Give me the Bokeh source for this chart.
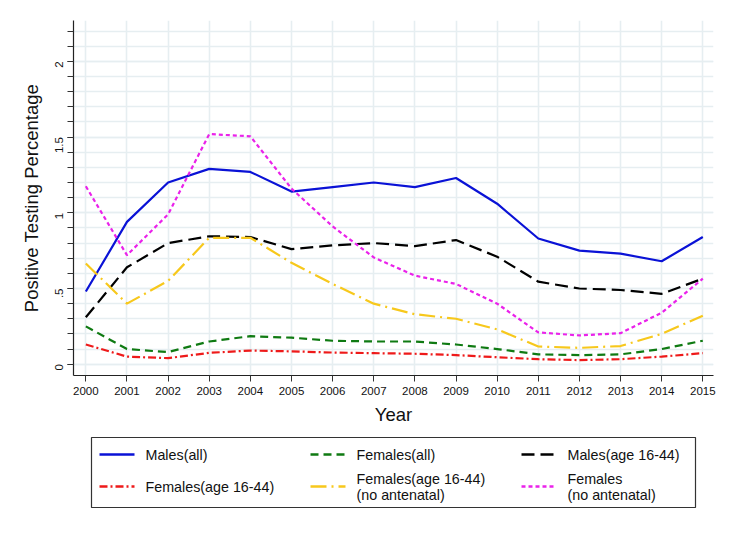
from bokeh.plotting import figure
from bokeh.models import Range1d, FixedTicker
from bokeh.layouts import column
from bokeh.core.properties import value
from bokeh.embed import file_html
from bokeh.resources import INLINE

# ---------------- data ----------------
years = list(range(2000, 2016))
males_all = [0.48, 0.94, 1.20, 1.29, 1.27, 1.14, 1.17, 1.20, 1.17, 1.23, 1.06, 0.83, 0.75, 0.73, 0.68, 0.84]
females_all = [0.25, 0.10, 0.08, 0.15, 0.185, 0.175, 0.155, 0.15, 0.15, 0.13, 0.10, 0.065, 0.06, 0.065, 0.10, 0.155]
males_1644 = [0.31, 0.64, 0.80, 0.845, 0.84, 0.76, 0.785, 0.80, 0.78, 0.82, 0.71, 0.545, 0.50, 0.49, 0.465, 0.565]
females_1644 = [0.13, 0.05, 0.04, 0.075, 0.09, 0.085, 0.077, 0.073, 0.069, 0.06, 0.046, 0.033, 0.027, 0.033, 0.05, 0.073]
females_1644_noant = [0.665, 0.40, 0.55, 0.835, 0.835, 0.67, 0.53, 0.40, 0.33, 0.30, 0.23, 0.117, 0.108, 0.12, 0.20, 0.32]
females_noant = [1.175, 0.72, 0.99, 1.52, 1.505, 1.16, 0.91, 0.705, 0.585, 0.53, 0.40, 0.21, 0.19, 0.205, 0.34, 0.565]

y_ticks = [0, 0.5, 1, 1.5, 2]
y_tick_labels = ["0", ".5", "1", "1.5", "2"]
y_minor = [round(i * 0.1, 1) for i in range(0, 23)]

series = [
    # (values, label lines, color, dash)
    (males_all, ["Males(all)"], "#0a12d6", "solid"),
    (females_all, ["Females(all)"], "#0f7a12", "8 5"),
    (males_1644, ["Males(age 16-44)"], "#000000", "13 6"),
    (females_1644, ["Females(age 16-44)"], "#ee1a1a", "8 3 2 3"),
    (females_1644_noant, ["Females(age 16-44)", "(no antenatal)"], "#f7c81c", "16 5 2 5"),
    (females_noant, ["Females", "(no antenatal)"], "#ea22ea", "4 3"),
]

FONT = "Liberation Sans"
W = 716
FRAME_L, FRAME_R = 73, 713

# ---------------- main plot ----------------
p = figure(width=W, height=428, output_backend="svg", toolbar_location=None,
           x_range=Range1d(1999.7, 2015.26), y_range=Range1d(-0.0746, 2.27),
           min_border_left=FRAME_L, min_border_right=W - FRAME_R,
           min_border_top=20, min_border_bottom=53)
p.outline_line_color = None
p.background_fill_color = "white"
p.border_fill_color = "white"

for vals, lab, col, dash in series:
    p.line(years, vals, line_color=col, line_width=2.2, line_dash=dash)

grid_col = "#e6eef1"
p.xaxis.ticker = FixedTicker(ticks=years)
p.yaxis.ticker = FixedTicker(ticks=y_ticks, minor_ticks=y_minor)
p.yaxis.major_label_overrides = dict(zip(y_ticks, y_tick_labels))
p.xgrid.grid_line_color = grid_col
p.xgrid.grid_line_width = 1.6
p.ygrid.grid_line_color = grid_col
p.ygrid.grid_line_width = 1.6
p.ygrid.minor_grid_line_color = grid_col
p.ygrid.minor_grid_line_width = 1.6

for ax in (p.xaxis, p.yaxis):
    ax.axis_line_color = "#222222"
    ax.axis_line_width = 1.2
    ax.major_tick_line_color = "#333333"
    ax.minor_tick_line_color = "#333333"
    ax.major_tick_in = 0
    ax.major_tick_out = 6
    ax.major_label_text_font = FONT
    ax.major_label_text_font_size = "11.5px"
    ax.major_label_text_color = "#111111"
    ax.axis_label_text_font = FONT
    ax.axis_label_text_font_size = "18.5px"
    ax.axis_label_text_font_style = "normal"
    ax.axis_label_text_color = "#111111"

p.xaxis.minor_tick_line_color = None
p.yaxis.minor_tick_in = 0
p.yaxis.minor_tick_out = 6
p.xaxis.major_label_standoff = 5
p.yaxis.major_label_standoff = 8
p.yaxis.major_label_orientation = 1.5708
p.xaxis.axis_label = "Year"
p.yaxis.axis_label = "Positive Testing Percentage"
p.xaxis.axis_label_standoff = 6
p.yaxis.axis_label_standoff = 7

# ---------------- legend panel ----------------
# panel coordinates equal page pixels (x: frame aligned with main frame)
lg = figure(width=W, height=97, output_backend="svg", toolbar_location=None,
            x_range=Range1d(FRAME_L, FRAME_R), y_range=Range1d(525, 428),
            min_border_left=FRAME_L, min_border_right=W - FRAME_R,
            min_border_top=0, min_border_bottom=0)
lg.outline_line_color = None
lg.xaxis.visible = False
lg.yaxis.visible = False
lg.grid.visible = False
lg.background_fill_color = "white"
lg.border_fill_color = "white"

box_l, box_r, box_t, box_b = 91, 695, 437, 507
lg.quad(left=[box_l], right=[box_r], top=[box_t], bottom=[box_b],
        fill_color="white", line_color="#333333", line_width=1.2)

col_sample_x = [99, 310, 521]
sample_len = 35
col_text_x = [145, 356, 567]
row_y = [454, 486]
line_gap = 16

for i, (vals, lab, col, dash) in enumerate(series):
    r, c = divmod(i, 3)
    y = row_y[r]
    x0 = col_sample_x[c]
    lg.line([x0, x0 + sample_len], [y, y], line_color=col, line_width=2.4, line_dash=dash)
    n = len(lab)
    for k, t in enumerate(lab):
        ty = y + (k - (n - 1) / 2) * line_gap
        lg.text(x=[col_text_x[c]], y=[ty], text=[t], text_font=value(FONT),
                text_font_size="14.3px", text_baseline="middle", text_align="left",
                text_color="#111111")

layout = column(p, lg, spacing=0)
open("out.html", "w").write(file_html(layout, INLINE))
